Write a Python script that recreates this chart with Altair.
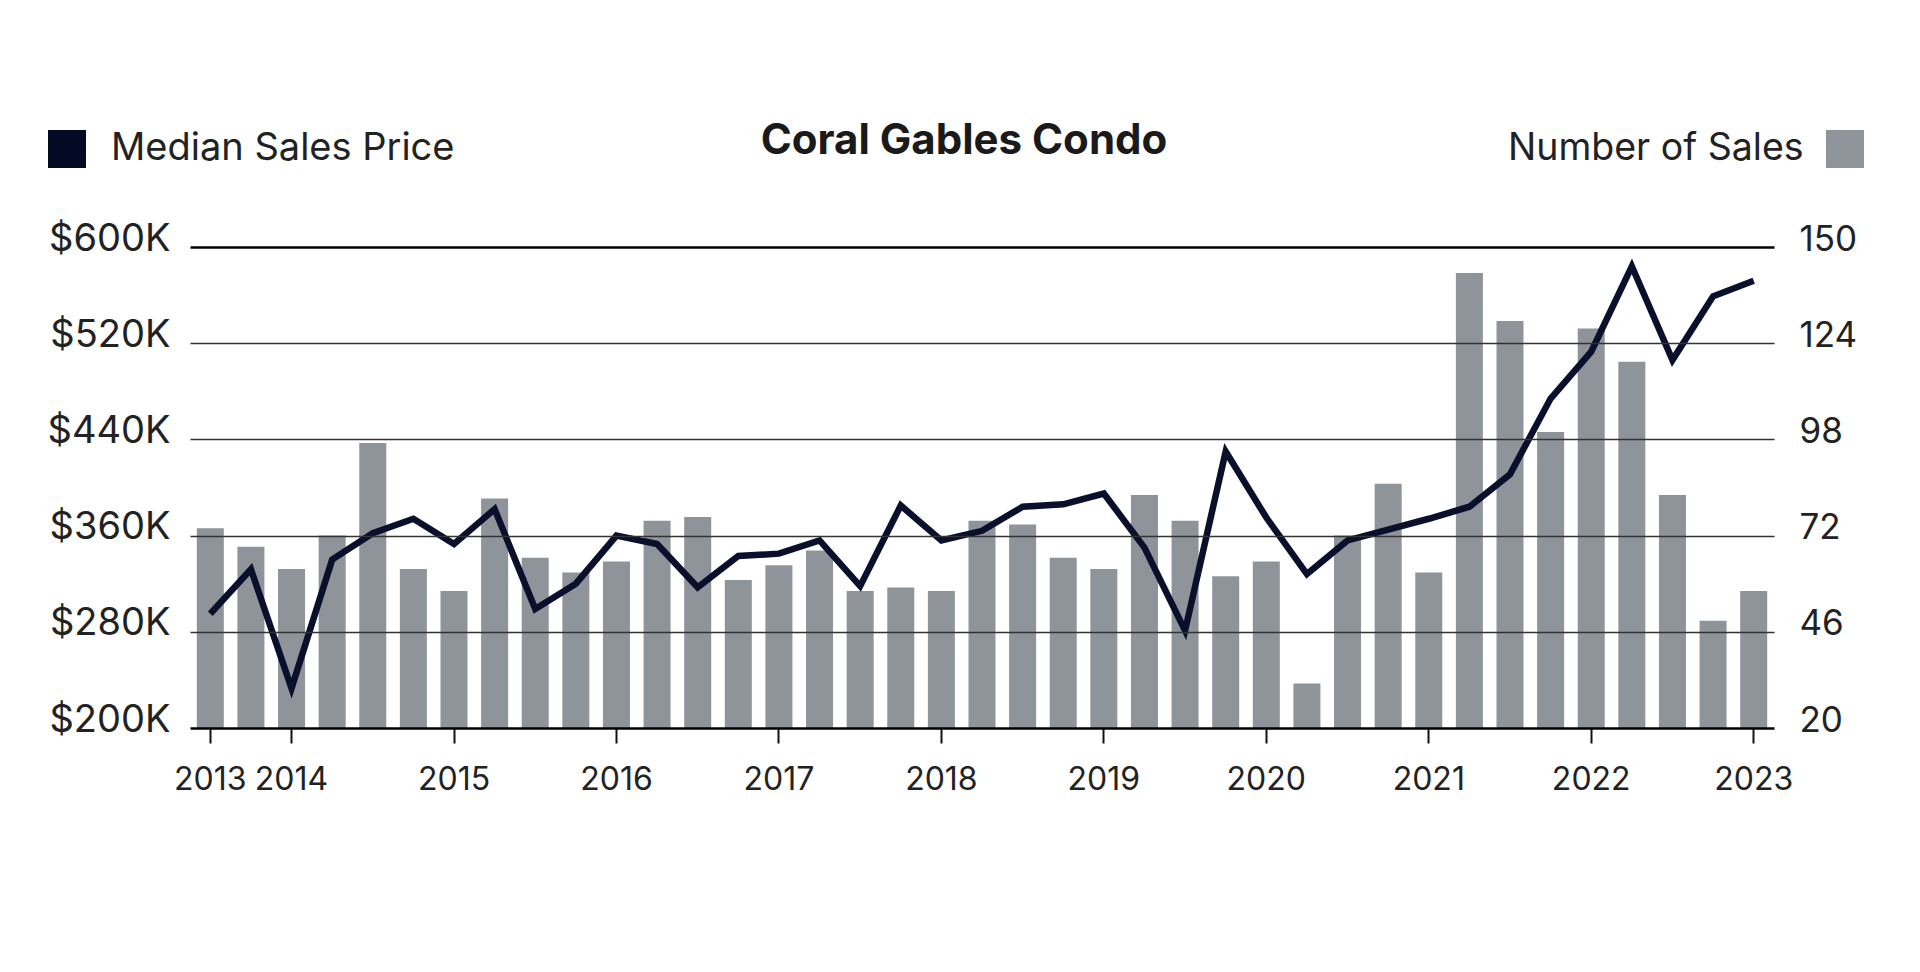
import altair as alt
import pandas as pd

quarters = [
    "2013 Q3", "2013 Q4",
    "2014 Q1", "2014 Q2", "2014 Q3", "2014 Q4",
    "2015 Q1", "2015 Q2", "2015 Q3", "2015 Q4",
    "2016 Q1", "2016 Q2", "2016 Q3", "2016 Q4",
    "2017 Q1", "2017 Q2", "2017 Q3", "2017 Q4",
    "2018 Q1", "2018 Q2", "2018 Q3", "2018 Q4",
    "2019 Q1", "2019 Q2", "2019 Q3", "2019 Q4",
    "2020 Q1", "2020 Q2", "2020 Q3", "2020 Q4",
    "2021 Q1", "2021 Q2", "2021 Q3", "2021 Q4",
    "2022 Q1", "2022 Q2", "2022 Q3", "2022 Q4",
    "2023 Q1",
]

year_ticks = ["2013 Q3", "2014 Q1", "2015 Q1", "2016 Q1", "2017 Q1", "2018 Q1",
              "2019 Q1", "2020 Q1", "2021 Q1", "2022 Q1", "2023 Q1"]

number_of_sales = [74, 69, 63, 72, 97, 63, 57, 82, 66, 62,
                   65, 76, 77, 60, 64, 68, 57, 58, 57, 76,
                   75, 66, 63, 83, 76, 61, 65, 32, 72, 86,
                   62, 143, 130, 100, 128, 119, 83, 49, 57]

median_price_k = [295, 332, 233, 340, 362, 374, 353, 382, 299, 320,
                  360, 353, 317, 343, 345, 356, 318, 385, 356, 364,
                  384, 386, 395, 350, 281, 430, 375, 328, 356, 365,
                  374, 384, 411, 474, 513, 584, 506, 559, 572]

price_ticks = [200, 280, 360, 440, 520, 600]
sales_ticks = [20, 46, 72, 98, 124, 150]

df = pd.DataFrame({
    "q": quarters,
    "sales": number_of_sales,
    "price": median_price_k,
    "s_lab": ["Number of Sales"] * len(quarters),
    "p_lab": ["Median Sales Price"] * len(quarters),
})

FONT = "Inter"
TEXT = "#222222"
BAR = "#8f949a"
LINE = "#0a0f2c"

xscale = alt.Scale(paddingInner=0.335, paddingOuter=0.1675)

bars = alt.Chart(df).mark_bar(color=BAR).encode(
    x=alt.X("q:N", sort=quarters, scale=xscale,
            axis=alt.Axis(title=None, orient="bottom", labels=False, domain=False,
                          grid=False, ticks=True, tickSize=13, tickWidth=2,
                          tickColor="#111111", offset=-13)),
    y=alt.Y("sales:Q", scale=alt.Scale(domain=[20, 150], nice=False, zero=False),
            axis=alt.Axis(title=None, orient="right", values=sales_ticks, grid=False,
                          domain=False, ticks=False, labelPadding=25, labelFont=FONT,
                          labelFontSize=35, labelColor=TEXT, labelBaseline="alphabetic",
                          labelOffset=3, labelAlign="left")),
    y2=alt.datum(20),
    color=alt.Color("s_lab:N", scale=alt.Scale(range=[BAR]),
                    legend=alt.Legend(title="Number of Sales", titleOrient="left",
                                      orient="none", legendX=1318, legendY=-117,
                                      labelExpr="''", symbolType="square",
                                      symbolSize=1444, symbolStrokeWidth=0,
                                      symbolOpacity=1, titleFont=FONT, titleFontSize=37.5,
                                      titleFontWeight="normal", titleColor=TEXT,
                                      titlePadding=22, titleLimit=600, padding=0,
                                      labelOffset=0, titleBaseline="middle")),
)

line = alt.Chart(df).mark_line(strokeWidth=6.5, strokeJoin="miter").encode(
    x=alt.X("q:N", sort=quarters, scale=xscale,
            axis=alt.Axis(title=None, orient="bottom", values=year_ticks,
                          labelExpr="slice(datum.value, 0, 4)", domain=False, grid=False,
                          tickSize=28, tickWidth=2, tickColor="#111111", offset=-13,
                          labelPadding=21, labelFont=FONT, labelFontSize=32,
                          labelColor=TEXT, labelAngle=0, labelOverlap=False)),
    y=alt.Y("price:Q", scale=alt.Scale(domain=[200, 600], nice=False, zero=False),
            axis=alt.Axis(title=None, orient="left", values=price_ticks,
                          labelExpr="'$' + datum.value + 'K'", grid=True,
                          gridColor={"condition": {"test": "datum.value == 600 || datum.value == 200", "value": "#000000"}, "value": "#333333"},
                          gridWidth={"condition": {"test": "datum.value == 600 || datum.value == 200", "value": 2.5}, "value": 1.5},
                          domain=False, ticks=False, labelPadding=20, labelFont=FONT,
                          labelFontSize=38, labelColor=TEXT, labelBaseline="alphabetic",
                          labelOffset=3, zindex=1)),
    color=alt.Color("p_lab:N", scale=alt.Scale(range=[LINE]),
                    legend=alt.Legend(title=None, orient="none", legendX=-142, legendY=-117,
                                      symbolType="square", symbolSize=1444,
                                      symbolFillColor="#050a24", symbolStrokeWidth=0,
                                      labelFont=FONT, labelFontSize=38, labelColor=TEXT,
                                      labelOffset=25, labelLimit=600, padding=0)),
)

chart = alt.layer(bars, line).resolve_scale(
    y="independent", color="independent"
).resolve_axis(
    x="independent", y="independent"
).properties(
    width=1584,
    height=481,
    padding={"left": 182, "top": 239, "right": 120, "bottom": 150},
    autosize=alt.AutoSizeParams(type="none"),
    background="white",
    title=alt.TitleParams("Coral Gables Condo", font=FONT, fontSize=42, fontWeight="bold",
                          color="#1a1a1a", anchor="middle", dx=-18, offset=-33,
                          frame="group"),
).configure_view(stroke=None)

chart.save("out.html", embed_options={"renderer": "svg", "actions": False})
